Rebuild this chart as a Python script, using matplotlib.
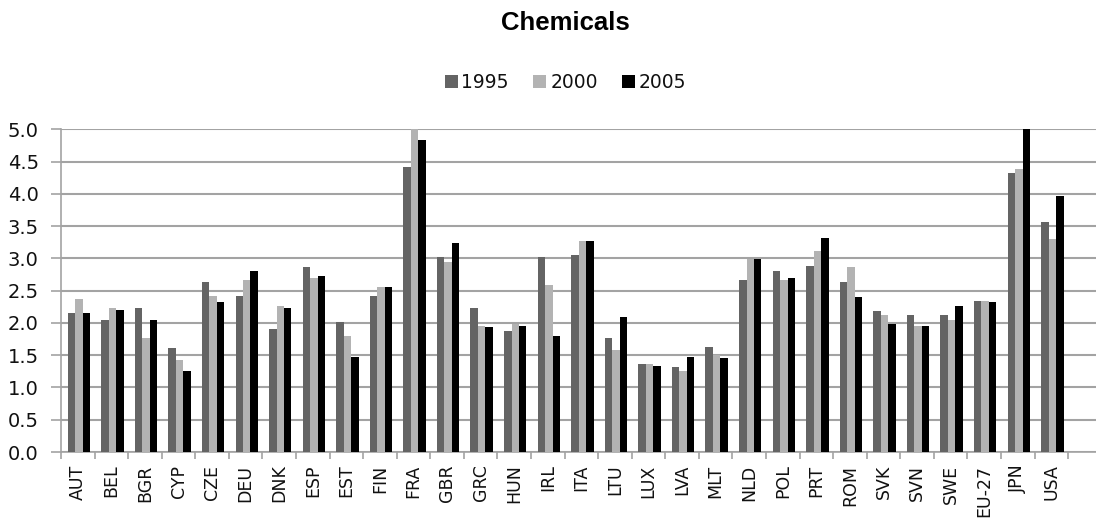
import numpy as np
import matplotlib
matplotlib.use("agg")
import matplotlib.pyplot as plt

countries = ["AUT", "BEL", "BGR", "CYP", "CZE", "DEU", "DNK", "ESP", "EST", "FIN",
             "FRA", "GBR", "GRC", "HUN", "IRL", "ITA", "LTU", "LUX", "LVA", "MLT",
             "NLD", "POL", "PRT", "ROM", "SVK", "SVN", "SWE", "EU-27", "JPN", "USA"]
years = ["1995", "2000", "2005"]
v1995 = [2.15, 2.04, 2.23, 1.61, 2.64, 2.42, 1.91, 2.86, 2.02, 2.42,
         4.41, 3.02, 2.23, 1.88, 3.02, 3.05, 1.77, 1.36, 1.31, 1.63,
         2.67, 2.81, 2.88, 2.64, 2.18, 2.12, 2.12, 2.34, 4.33, 3.57]
v2000 = [2.37, 2.23, 1.77, 1.42, 2.42, 2.67, 2.26, 2.69, 1.80, 2.56,
         5.00, 2.94, 1.96, 1.99, 2.59, 3.27, 1.58, 1.36, 1.26, 1.50,
         2.99, 2.67, 3.11, 2.86, 2.12, 1.96, 2.04, 2.34, 4.38, 3.30]
v2005 = [2.15, 2.20, 2.04, 1.26, 2.32, 2.81, 2.23, 2.72, 1.47, 2.56,
         4.84, 3.24, 1.93, 1.96, 1.80, 3.27, 2.09, 1.34, 1.47, 1.45,
         2.99, 2.69, 3.32, 2.40, 1.99, 1.96, 2.26, 2.32, 5.00, 3.97]
colors = ["#646464", "#b3b3b3", "#000000"]
grid_color = "#a3a3a3"
text_color = "#111111"

fig = plt.figure(figsize=(10.96, 5.24), dpi=100)
ax = fig.add_axes([0.0557, 0.1374, 0.9443, 0.6158])

x = np.arange(len(countries))
w = 0.222
for i, (vals, c, lab) in enumerate(zip([v1995, v2000, v2005], colors, years)):
    ax.bar(x + (i - 1) * w + 0.03, vals, width=w, color=c, label=lab, zorder=3)

ax.set_ylim(0, 5.0)
ax.set_yticks(np.arange(0, 5.01, 0.5))
ax.set_yticklabels(["{:.1f}".format(v) for v in np.arange(0, 5.01, 0.5)])
ax.set_xlim(-0.5, 30.33)
ax.set_xticks(x)
ax.set_xticklabels(countries, rotation=90)
ax.set_xticks(np.arange(-0.5, 30, 1), minor=True)

ax.grid(axis="y", color=grid_color, lw=1.5, zorder=0)
for s in ["top", "right"]:
    ax.spines[s].set_visible(False)
for s in ["left", "bottom"]:
    ax.spines[s].set_color(grid_color)
    ax.spines[s].set_linewidth(1.2)

ax.tick_params(axis="x", which="major", length=0, pad=9, labelsize=12.5, labelcolor=text_color)
ax.tick_params(axis="x", which="minor", length=5, color=grid_color, width=1.2)
ax.tick_params(axis="y", length=7, color=grid_color, width=1.2, pad=9, labelsize=14, labelcolor=text_color)

fig.text(0.516, 0.957, "Chemicals", ha="center", va="center", fontsize=18.5,
         fontweight="bold", family="Liberation Sans")

fig.legend(loc="center", bbox_to_anchor=(0.516, 0.842), ncol=3, frameon=False,
           handlelength=0.7, handleheight=0.7, handletextpad=0.2, columnspacing=1.3,
           fontsize=13.5, labelcolor=text_color)

fig.savefig("out.png", dpi=100)
